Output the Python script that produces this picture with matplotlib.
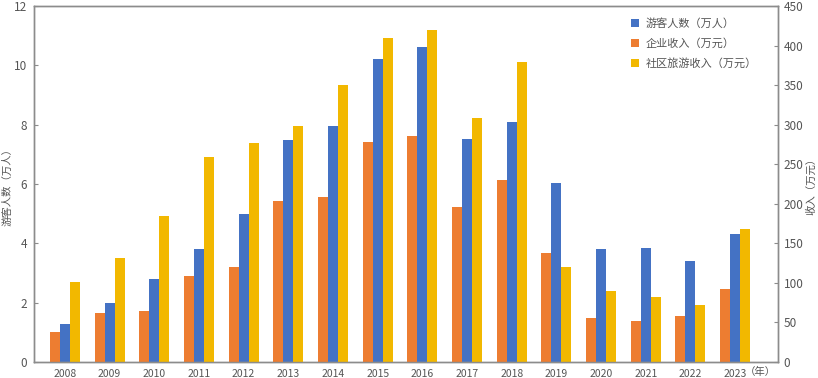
import numpy as np
import matplotlib
matplotlib.use("Agg")
import matplotlib.pyplot as plt

plt.rcParams['font.family'] = ['Noto Sans CJK SC', 'DejaVu Sans']

years = [str(y) for y in range(2008, 2024)]
visitors = [1.28, 1.98, 2.80, 3.82, 4.98, 7.49, 7.97, 10.20, 10.61, 7.51, 8.09, 6.04, 3.81, 3.84, 3.40, 4.31]
company_income = [37.5, 61.9, 64.8, 108.6, 119.5, 202.9, 208.8, 278.6, 285.8, 196.1, 229.8, 138.0, 55.6, 52.2, 58.1, 92.6]
community_income = [101.4, 131.7, 184.8, 259.3, 277.4, 298.8, 350.2, 409.5, 419.6, 308.9, 379.6, 120.4, 89.2, 81.6, 72.0, 167.9]

blue = "#4472C4"
orange = "#ED7D31"
yellow = "#F2B800"
gray = "#8c8c8c"
text_c = "#555555"

x = np.arange(len(years))
w = 0.224

fig = plt.figure(figsize=(8.18, 3.78), dpi=100)
ax = fig.add_axes([0.0416, 0.0423, 0.9095, 0.9418])
ax2 = ax.twinx()

b1 = ax.bar(x, visitors, w, color=blue)
b2 = ax2.bar(x - w, company_income, w, color=orange)
b3 = ax2.bar(x + w, community_income, w, color=yellow)

ax.set_xlim(-0.69, 15.96)
ax.set_ylim(0, 12)
ax2.set_ylim(0, 450)
ax.set_yticks(range(0, 13, 2))
ax2.set_yticks(range(0, 451, 50))
ax.set_xticks(x)
ax.set_xticklabels(years)

for a in (ax, ax2):
    for s in a.spines.values():
        s.set_color(gray)
        s.set_linewidth(1.0)
ax.tick_params(axis='y', direction='in', length=3, color=gray, labelsize=8.5, labelcolor=text_c, pad=5)
ax2.tick_params(axis='y', direction='in', length=3, color=gray, labelsize=8.5, labelcolor=text_c, pad=4)
ax.tick_params(axis='x', length=0, labelsize=7.5, labelcolor=text_c, pad=5)

ax.set_ylabel("游客人数（万人）", fontsize=7.5, color=text_c)
ax.yaxis.set_label_coords(-0.029, 0.5)
ax2.set_ylabel("收入（万元）", fontsize=7.5, color=text_c)
ax2.yaxis.set_label_coords(1.0376, 0.5)

ax.text(15.22, -0.028, "（年）", transform=ax.get_xaxis_transform(),
        ha='left', va='center', fontsize=7.5, color=text_c)

ax2.legend([b1, b2, b3], ["游客人数（万人）", "企业收入（万元）", "社区旅游收入（万元）"],
           loc='upper right', bbox_to_anchor=(0.985, 0.995), frameon=False,
           fontsize=8, handlelength=0.7, handleheight=0.7, handletextpad=0.6,
           labelspacing=0.85, labelcolor=text_c)

fig.savefig("out.png", dpi=100)
